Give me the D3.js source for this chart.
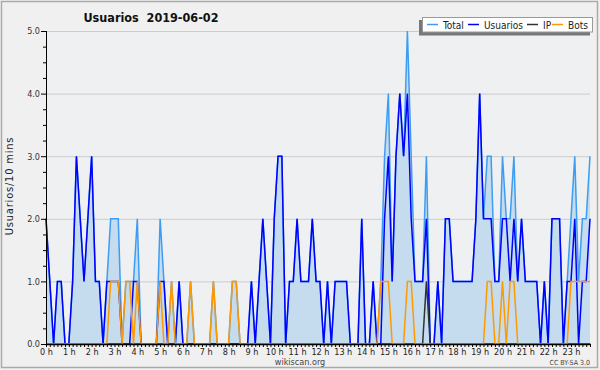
<!DOCTYPE html>
<html><head><meta charset="utf-8">
<script src="https://cdn.jsdelivr.net/npm/d3@7"></script>
<style>
body{margin:0;padding:0;background:#f0f0f0;}
svg text{font-family:"DejaVu Sans Condensed","DejaVu Sans",sans-serif;font-stretch:condensed;}
</style></head>
<body><svg id="c" width="600" height="370"></svg>
<script>
const title = "Usuarios  2019-06-02";
const yLabel = "Usuarios/10 mins";
const hourLabels = d3.range(24).map(h => h + " h");
const seriesNames = ["Total", "Usuarios", "IP", "Bots"];
const seriesColors = ["#3d9df2", "#0000ff", "#333333", "#ff9900"];
const yTicks = [0, 1, 2, 3, 4, 5];

// 144 ten-minute slots
const total = [2,1,0,1,1,0,0,1,3,2,1,2,3,1,1,0,1,2,2,2,
  0,1,1,1,2,0,0,0,0,0,2,1,0,1,0,1,0,0,1,0,
  0,0,0,0,1,0,0,0,0,1,1,0,0,0,1,0,1,2,1,0,
  2,3,3,0,1,1,2,1,1,1,2,1,1,0,1,0,1,1,1,1,
  0,0,0,2,0,0,1,0,1,3,4,1,3,4,3,5,3,1,1,1,
  3,0,0,1,0,2,2,1,1,1,1,1,1,2,4,2,3,3,1,1,
  3,2,2,3,1,2,1,1,1,1,0,1,0,2,2,2,0,1,2,3,
  1,2,2,3];
const usuarios = [2,1,0,1,1,0,0,1,3,2,1,2,3,1,1,0,1,1,1,1,
  0,0,0,1,1,0,0,0,0,0,1,1,0,0,0,1,0,0,0,0,
  0,0,0,0,0,0,0,0,0,0,0,0,0,0,1,0,1,2,1,0,
  2,3,3,0,1,1,2,1,1,1,2,1,1,0,1,0,1,1,1,1,
  0,0,0,2,0,0,1,0,0,2,3,1,3,4,3,4,2,1,1,1,
  2,0,0,1,0,2,2,1,1,1,1,1,1,2,4,2,2,2,1,1,
  2,2,1,2,1,2,1,1,1,1,0,1,0,2,2,2,0,1,1,2,
  0,1,1,2];
const ip = [0,0,0,0,0,0,0,0,0,0,0,0,0,0,0,0,0,0,0,0,
  0,0,0,0,0,0,0,0,0,0,0,0,0,0,0,0,0,0,0,0,
  0,0,0,0,0,0,0,0,0,0,0,0,0,0,0,0,0,0,0,0,
  0,0,0,0,0,0,0,0,0,0,0,0,0,0,0,0,0,0,0,0,
  0,0,0,0,0,0,0,0,0,0,0,0,0,0,0,0,0,0,0,0,
  1,0,0,0,0,0,0,0,0,0,0,0,0,0,0,0,0,0,0,0,
  0,0,0,0,0,0,0,0,0,0,0,0,0,0,0,0,0,0,0,0,
  0,0,0,0];
const bots = [0,0,0,0,0,0,0,0,0,0,0,0,0,0,0,0,0,1,1,1,
  0,1,1,0,1,0,0,0,0,0,1,0,0,1,0,0,0,0,1,0,
  0,0,0,0,1,0,0,0,0,1,1,0,0,0,0,0,0,0,0,0,
  0,0,0,0,0,0,0,0,0,0,0,0,0,0,0,0,0,0,0,0,
  0,0,0,0,0,0,0,0,1,1,1,0,0,0,0,1,1,0,0,0,
  0,0,0,0,0,0,0,0,0,0,0,0,0,0,0,0,1,1,0,0,
  1,0,1,1,0,0,0,0,0,0,0,0,0,0,0,0,0,0,1,1,
  1,1,1,1];

const svg = d3.select("#c");
const W = 600, H = 370;
const m = {left: 46, right: 590, top: 31, bottom: 344};

svg.append("rect").attr("x",0).attr("y",0).attr("width",W).attr("height",H).attr("fill","#f0f0f0");
svg.append("rect").attr("x",1.5).attr("y",1.5).attr("width",596).attr("height",366)
  .attr("fill","none").attr("stroke","#aaaaaa").attr("stroke-width",1.5);
svg.append("rect").attr("x",m.left).attr("y",m.top).attr("width",m.right-m.left).attr("height",m.bottom-m.top)
  .attr("fill","#eef0f2");

const x = d3.scaleLinear().domain([0, total.length-1]).range([m.left, m.right]);
const y = d3.scaleLinear().domain([0, 5]).range([m.bottom, m.top]);

// grid
svg.append("g").selectAll("line").data(yTicks.filter(v=>v>0)).join("line")
  .attr("x1", m.left).attr("x2", m.right)
  .attr("y1", d=>y(d)+0.5).attr("y2", d=>y(d)+0.5)
  .attr("stroke","#cccccc").attr("stroke-width",1);

const idx = d3.range(total.length);
svg.append("path").datum(idx)
  .attr("d", d3.area().x(i=>x(i)).y0(y(0)).y1(i=>y(total[i])))
  .attr("fill","#c5dcef");

const lineFor = arr => d3.line().x(i=>x(i)).y(i=>y(arr[i]));
[[total,0],[usuarios,1],[ip,2],[bots,3]].forEach(([arr,k])=>{
  svg.append("path").datum(idx).attr("d", lineFor(arr)(idx))
    .attr("fill","none").attr("stroke",seriesColors[k]).attr("stroke-width",1.5)
    .attr("stroke-linejoin","miter");
});

// y axis
const yAxis = d3.axisLeft(y).tickValues(d3.range(0,5.01,0.25)).tickSize(3)
  .tickFormat(d => Number.isInteger(d) ? d.toFixed(1) : "");
const gy = svg.append("g").attr("transform",`translate(${m.left},0)`).call(yAxis);
gy.select(".domain").attr("stroke","#000").attr("d",`M0.5,${m.top}V${m.bottom}`);
gy.selectAll(".tick line").attr("stroke","#000").attr("x2", d=>Number.isInteger(d)?-5:-3);
gy.selectAll(".tick text").attr("x",-6).attr("font-size","9px").attr("fill","#333")
  .style("font-family",'"DejaVu Sans Condensed","DejaVu Sans",sans-serif');

// x axis
const xAxis = d3.axisBottom(x).tickValues(idx).tickSize(3)
  .tickFormat(i => i % 6 === 0 ? hourLabels[i/6] : "");
const gx = svg.append("g").attr("transform",`translate(0,${m.bottom})`).call(xAxis);
gx.select(".domain").attr("stroke","#000").attr("stroke-width",1.5).attr("d",`M${m.left},0.5H${m.right+1}`);
gx.selectAll(".tick line").attr("stroke","#000");
gx.selectAll(".tick text").attr("y",5).attr("font-size","9px").attr("fill","#222")
  .style("font-family",'"DejaVu Sans Condensed","DejaVu Sans",sans-serif');

// title
svg.append("text").attr("x",151).attr("y",22).attr("text-anchor","middle")
  .style("white-space","pre").attr("xml:space","preserve")
  .attr("font-size","12.5px").attr("font-weight","bold").attr("fill","#111").text(title);
// y label
svg.append("text").attr("transform","translate(13,186) rotate(-90)").attr("text-anchor","middle")
  .attr("font-size","11px").attr("letter-spacing","0.8px").attr("fill","#222").text(yLabel);
// footer
svg.append("text").attr("x",300).attr("y",365).attr("text-anchor","middle")
  .attr("font-size","9px").attr("fill","#444").text("wikiscan.org");
svg.append("text").attr("x",590).attr("y",365).attr("text-anchor","end")
  .attr("font-size","7px").attr("fill","#444").text("CC BY-SA 3.0");

// legend
svg.append("rect").attr("x",419).attr("y",20).attr("width",171).attr("height",15.5).attr("fill","#777");
svg.append("rect").attr("x",422.5).attr("y",17.5).attr("width",170).attr("height",14.5)
  .attr("fill","#ffffff").attr("stroke","#999").attr("stroke-width",1);
const legX = [427, 468, 527, 552];
const leg = svg.append("g");
seriesNames.forEach((n,k)=>{
  leg.append("line").attr("x1",legX[k]).attr("x2",legX[k]+11).attr("y1",24.5).attr("y2",24.5)
    .attr("stroke",seriesColors[k]).attr("stroke-width",1.5);
  leg.append("text").attr("x",legX[k]+16).attr("y",28.5).attr("font-size","10px").attr("fill","#222").text(n);
});
</script></body></html>
